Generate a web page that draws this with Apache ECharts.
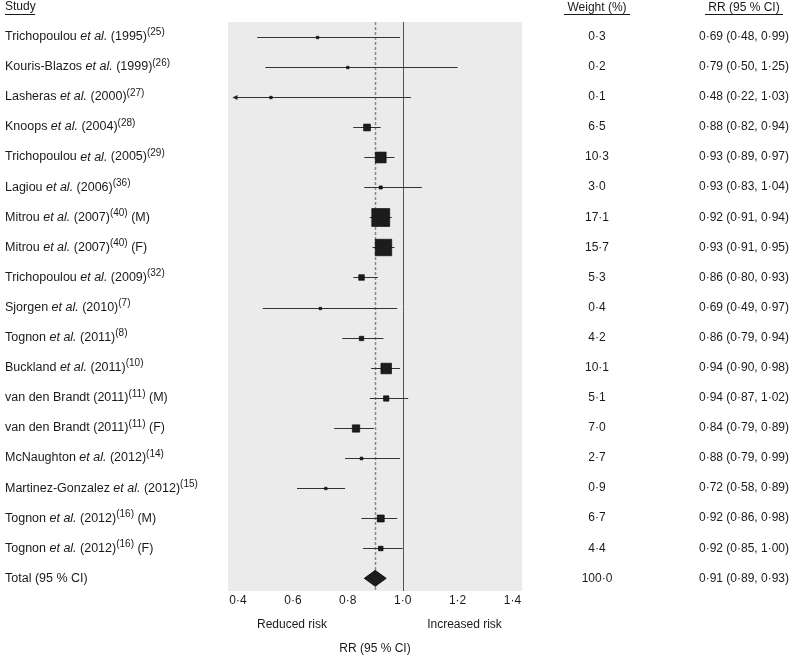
<!DOCTYPE html>
<html><head><meta charset="utf-8">
<script src="https://cdn.jsdelivr.net/npm/echarts@6/dist/echarts.min.js"></script>
<style>html,body{margin:0;padding:0;background:#fff}#c{width:794px;height:660px}</style>
</head><body><div id="c"></div>
<script>
// ---- data ----
const studyAuthors = ['Trichopoulou','Kouris-Blazos','Lasheras','Knoops','Trichopoulou','Lagiou','Mitrou','Mitrou','Trichopoulou','Sjorgen','Tognon','Buckland','van den Brandt','van den Brandt','McNaughton','Martinez-Gonzalez','Tognon','Tognon','Total (95 % CI)'];
const studyEtAl = [1,1,1,1,1,1,1,1,1,1,1,1,0,0,1,1,1,1,0];
const studyYears = ['1995','1999','2000','2004','2005','2006','2007','2007','2009','2010','2011','2011','2011','2011','2012','2012','2012','2012',''];
const studyRefs = ['25','26','27','28','29','36','40','40','32','7','8','10','11','11','14','15','16','16',''];
const studySuffix = ['','','','','','',' (M)',' (F)','','','','',' (M)',' (F)','','',' (M)',' (F)',''];
const weights = [0.3,0.2,0.1,6.5,10.3,3.0,17.1,15.7,5.3,0.4,4.2,10.1,5.1,7.0,2.7,0.9,6.7,4.4,100.0];
// reported RR (95% CI) as printed
const rrEst = [0.69,0.79,0.48,0.88,0.93,0.93,0.92,0.93,0.86,0.69,0.86,0.94,0.94,0.84,0.88,0.72,0.92,0.92,0.91];
const rrLo  = [0.48,0.50,0.22,0.82,0.89,0.83,0.91,0.91,0.80,0.49,0.79,0.90,0.87,0.79,0.79,0.58,0.86,0.85,0.89];
const rrHi  = [0.99,1.25,1.03,0.94,0.97,1.04,0.94,0.95,0.93,0.97,0.94,0.98,1.02,0.89,0.99,0.89,0.98,1.00,0.93];
// marks as drawn in the figure
const plotEst = [0.69,0.80,0.52,0.87,0.92,0.92,0.92,0.93,0.85,0.70,0.85,0.94,0.94,0.83,0.85,0.72,0.92,0.92];
const plotLo  = [0.47,0.50,0.22,0.82,0.86,0.86,0.88,0.89,0.82,0.49,0.78,0.885,0.88,0.75,0.79,0.615,0.85,0.855];
const plotHi  = [0.99,1.20,1.03,0.92,0.97,1.07,0.96,0.97,0.91,0.98,0.93,0.99,1.02,0.895,0.99,0.79,0.98,1.00];
const pooledEst = 0.90, pooledLo = 0.86, pooledHi = 0.94;
const nullValue = 1.0;
const xTicks = [0.4,0.6,0.8,1.0,1.2,1.4];

// ---- helpers ----
const FONT = 'Liberation Sans, Arial, Helvetica, sans-serif';
const TXT = '#1a1a1a';
const dot = v => String(v).replace('.', '\u00b7');
const f2 = v => dot(v.toFixed(2));
const f1 = v => dot(v.toFixed(1));
const X_MIN = 0.3636, X_MAX = 1.4346, ARROW_LIMIT = 0.38;
const Y_MIN = -0.487, Y_MAX = 18.42;

function studyLabel(i){
  let s = '{n|' + studyAuthors[i] + '}';
  if (studyEtAl[i]) s += '{n| }{i|et al.}';
  if (studyYears[i]) s += '{n| (' + studyYears[i] + ')}';
  if (studyRefs[i]) s += '{s|(' + studyRefs[i] + ')}';
  if (studySuffix[i]) s += '{n|' + studySuffix[i] + '}';
  return s;
}
const rich = {
  n: {fontSize: 12.5, lineHeight: 18, fontFamily: FONT, fill: TXT},
  i: {fontSize: 12.5, lineHeight: 18, fontFamily: FONT, fill: TXT, fontStyle: 'italic'},
  s: {fontSize: 10, lineHeight: 10, fontFamily: FONT, fill: TXT, verticalAlign: 'top'}
};

const studyData = plotEst.map((e, i) => [e, plotLo[i], plotHi[i], i, weights[i]]);
const totalRow = studyAuthors.length - 1;
const textData = studyAuthors.map((a, i) => [1, i]);

const chart = echarts.init(document.getElementById('c'), null, {renderer: 'canvas'});
chart.setOption({
  animation: false,
  backgroundColor: '#fff',
  textStyle: {fontFamily: FONT},
  grid: {left: 228, width: 294, top: 22, height: 571, show: true, backgroundColor: '#ebebeb', borderWidth: 0},
  xAxis: {
    type: 'value', min: X_MIN, max: X_MAX,
    axisLine: {show: false}, axisTick: {show: false}, splitLine: {show: false},
    axisLabel: {customValues: xTicks, formatter: v => f1(v), color: TXT, fontSize: 12, fontFamily: FONT, margin: 4},
    name: 'RR (95 % CI)', nameLocation: 'middle', nameGap: 52,
    nameTextStyle: {color: TXT, fontSize: 12, fontFamily: FONT}
  },
  yAxis: {type: 'value', min: Y_MIN, max: Y_MAX, inverse: true, show: false},
  graphic: [
    {type: 'text', left: 5, top: 1, style: {text: 'Study', fontSize: 12, fontFamily: FONT, fill: TXT}},
    {type: 'line', shape: {x1: 5, y1: 14.5, x2: 35, y2: 14.5}, style: {stroke: TXT, lineWidth: 1}},
    {type: 'text', x: 597, y: 8, style: {text: 'Weight (%)', fontSize: 12, fontFamily: FONT, fill: TXT, align: 'center', verticalAlign: 'middle'}},
    {type: 'line', shape: {x1: 564, y1: 14.5, x2: 630, y2: 14.5}, style: {stroke: TXT, lineWidth: 1}},
    {type: 'text', x: 744, y: 8, style: {text: 'RR (95 % CI)', fontSize: 12, fontFamily: FONT, fill: TXT, align: 'center', verticalAlign: 'middle'}},
    {type: 'line', shape: {x1: 705, y1: 14.5, x2: 783, y2: 14.5}, style: {stroke: TXT, lineWidth: 1}},
    {type: 'text', x: 292, y: 625, style: {text: 'Reduced risk', fontSize: 12, fontFamily: FONT, fill: TXT, align: 'center', verticalAlign: 'middle'}},
    {type: 'text', x: 464.5, y: 625, style: {text: 'Increased risk', fontSize: 12, fontFamily: FONT, fill: TXT, align: 'center', verticalAlign: 'middle'}}
  ],
  series: [
    {
      type: 'custom', z: 1, silent: true,
      data: [[nullValue, 0, 0], [pooledEst, 0, 1]],
      encode: {x: 0, y: 1},
      renderItem: (params, api) => {
        const top = api.coord([api.value(0), Y_MIN]);
        const bot = api.coord([api.value(0), Y_MAX]);
        const x = Math.round(top[0]) + 0.5;
        const dashed = api.value(2) === 1;
        return {type: 'line', shape: {x1: x, y1: top[1], x2: x, y2: bot[1]},
          style: dashed ? {stroke: '#888', lineWidth: 1.5, lineDash: [3, 2]} : {stroke: '#555', lineWidth: 1}};
      }
    },
    {
      type: 'custom', z: 3, silent: true,
      data: studyData,
      encode: {x: [0, 1, 2], y: 3},
      renderItem: (params, api) => {
        const row = api.value(3);
        const lo = api.value(1);
        const clipped = lo < ARROW_LIMIT;
        const c = api.coord([api.value(0), row]);
        const l = api.coord([clipped ? ARROW_LIMIT : lo, row]);
        const h = api.coord([api.value(2), row]);
        const s = Math.max(2.5, api.value(4) * 1.05);
        const y = Math.round(c[1]) + 0.5;
        const children = [
          {type: 'line', shape: {x1: l[0] + (clipped ? 3 : 0), y1: y, x2: h[0], y2: y}, style: {stroke: '#333', lineWidth: 1}},
          {type: 'rect', shape: {x: c[0] - s / 2, y: y - s / 2, width: s, height: s}, style: {fill: '#1c1c1c', stroke: '#000', lineWidth: 0.6}}
        ];
        if (clipped) {
          children.push({type: 'polygon', shape: {points: [[l[0], y], [l[0] + 5, y - 2.5], [l[0] + 5, y + 2.5]]}, style: {fill: '#222'}});
        }
        return {type: 'group', children};
      }
    },
    {
      type: 'custom', z: 4, silent: true,
      data: [[pooledEst, pooledLo, pooledHi, totalRow]],
      encode: {x: [0, 1, 2], y: 3},
      renderItem: (params, api) => {
        const row = api.value(3);
        const c = api.coord([api.value(0), row]);
        const l = api.coord([api.value(1), row]);
        const h = api.coord([api.value(2), row]);
        return {type: 'polygon', shape: {points: [[l[0], c[1]], [c[0], c[1] - 8], [h[0], c[1]], [c[0], c[1] + 8]]},
          style: {fill: '#1c1c1c', stroke: '#000', lineWidth: 0.8}};
      }
    },
    {
      type: 'custom', z: 5, silent: true, clip: false,
      data: textData,
      encode: {x: 0, y: 1},
      renderItem: (params, api) => {
        const i = params.dataIndex;
        const y = api.coord([1, api.value(1)])[1];
        return {type: 'group', children: [
          {type: 'text', x: 5, y: y, style: {text: studyLabel(i), rich: rich, align: 'left', verticalAlign: 'middle', fontSize: 12.5, fontFamily: FONT, fill: TXT}},
          {type: 'text', x: 597, y: y, style: {text: f1(weights[i]), align: 'center', verticalAlign: 'middle', fontSize: 12, fontFamily: FONT, fill: TXT}},
          {type: 'text', x: 744, y: y, style: {text: f2(rrEst[i]) + ' (' + f2(rrLo[i]) + ', ' + f2(rrHi[i]) + ')', align: 'center', verticalAlign: 'middle', fontSize: 12, fontFamily: FONT, fill: TXT}}
        ]};
      }
    }
  ]
});
</script>
</body></html>
